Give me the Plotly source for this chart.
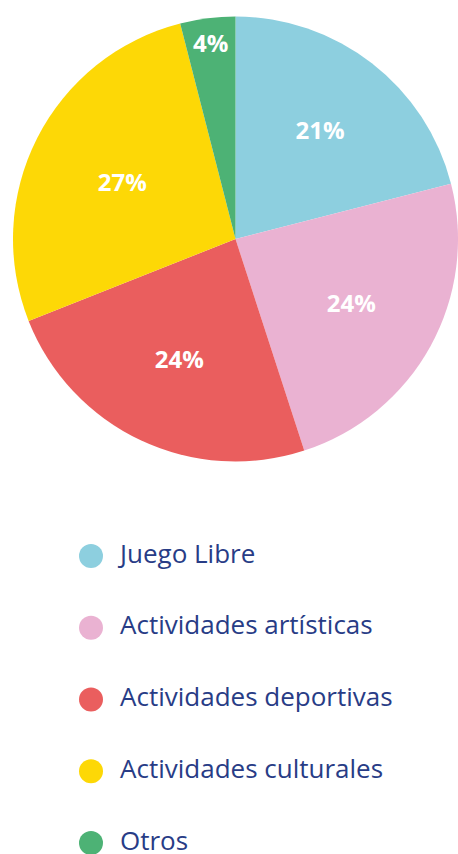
import plotly.graph_objects as go

categories = ["Juego Libre", "Actividades artísticas", "Actividades deportivas",
              "Actividades culturales", "Otros"]
values = [21, 24, 24, 27, 4]
colors = ["#8dcfdf", "#eab2d2", "#ea5e5e", "#fdd806", "#4db275"]

TEXT_COLOR = "#283c86"
W, H = 458, 854

fig = go.Figure()

fig.add_trace(go.Pie(
    labels=categories,
    values=values,
    sort=False,
    direction="clockwise",
    rotation=0,
    marker=dict(colors=colors, line=dict(width=0)),
    texttemplate="%{value}%",
    textposition="inside",
    insidetextorientation="horizontal",
    textfont=dict(family="Open Sans", size=24, color="white", weight="bold"),
    domain=dict(x=[13 / W, 1], y=[392 / H, 838 / H]),
    showlegend=False,
    hoverinfo="label+percent",
))

idx = list(range(len(categories)))
fig.add_trace(go.Scatter(
    x=[0] * len(categories), y=idx, mode="markers",
    marker=dict(size=24, color=colors, line=dict(width=0)),
    showlegend=False, hoverinfo="skip", cliponaxis=False,
))
fig.add_trace(go.Scatter(
    x=[29] * len(categories), y=idx, mode="text", text=categories,
    textposition="middle right",
    textfont=dict(family="Open Sans", size=26, color=TEXT_COLOR),
    showlegend=False, hoverinfo="skip", cliponaxis=False,
))

spacing = 71.75
top = 556
fig.update_layout(
    width=W, height=H,
    margin=dict(l=0, r=0, t=0, b=0),
    paper_bgcolor="white", plot_bgcolor="rgba(0,0,0,0)",
    xaxis=dict(range=[-91, W - 91], visible=False, fixedrange=True),
    yaxis=dict(range=[(H - top) / spacing, -top / spacing], visible=False, fixedrange=True),
)

fig.write_html("out.html",
               config={"displayModeBar": False},
               post_script="document.body.style.margin='0';document.body.style.padding='0';")
